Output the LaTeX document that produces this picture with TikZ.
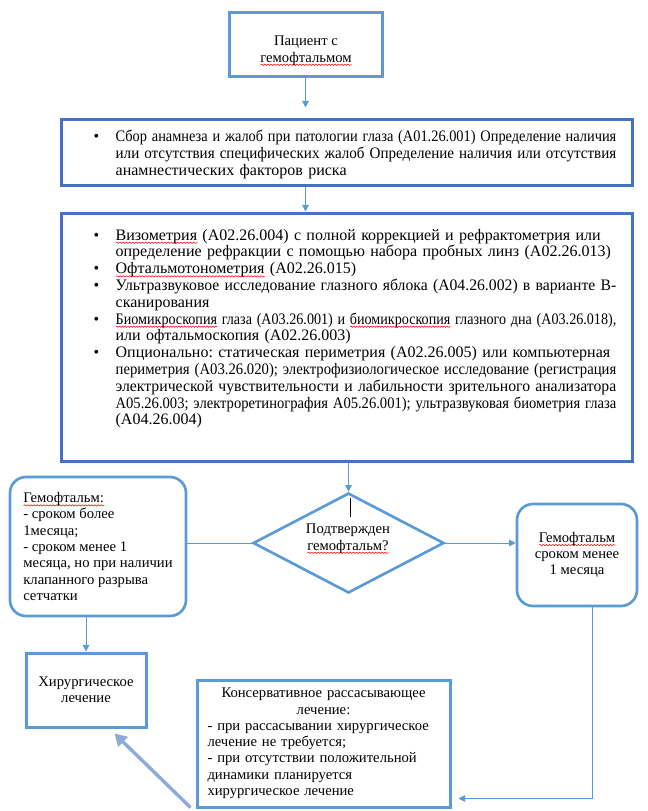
\documentclass[tikz,border=0pt]{standalone}
\usepackage{fontspec}
\usepackage{graphicx}
\setmainfont{Liberation Serif}
\usetikzlibrary{positioning,shapes.geometric,arrows.meta,decorations.pathmorphing}

\definecolor{lineblue}{HTML}{5B9BD5}
\definecolor{frameblue}{HTML}{4472C4}
\definecolor{paleblue}{HTML}{8FAADC}

\frenchspacing
% red wavy spell-check underline
\newcommand\sq[1]{\setbox0\hbox{#1}\rlap{\tikz[baseline=0pt,x=1pt,y=1pt]\draw[red,line width=0.4pt,sharp corners,decorate,decoration={snake,amplitude=0.5pt,segment length=2.4pt}] (0pt,-2pt) -- (\the\wd0,-2pt);}#1}
% list lines: bullet, continuation, justified line
\newlength\jw
\setlength\jw{375.5pt}
\newcommand\bul{\par\noindent\makebox[16.5pt][l]{\textbullet}}
\newcommand\cont{\par\noindent\hspace*{16.5pt}}
\newcommand\jline[1]{\setbox2\hbox{#1}\ifdim\wd2>\jw\resizebox{\jw}{\height}{\box2}\else\hbox to\jw{\unhbox2}\fi}

\tikzset{
  box/.style={draw=lineblue, line width=2.25pt, inner sep=0pt},
  bigbox/.style={draw=frameblue, line width=2.25pt, inner sep=0pt},
  roundbox/.style={draw=lineblue, line width=2pt, rounded corners=12pt, inner sep=0pt},
  txt/.style={font=\fontsize{11pt}{12.2pt}\selectfont, align=center},
  list/.style={font=\fontsize{12pt}{12.6pt}\selectfont, inner sep=0pt, text width=392pt},
  link/.style={draw=lineblue, line width=0.75pt, -{Triangle[width=5pt,length=5pt]}},
  plain/.style={draw=lineblue, line width=0.75pt},
  boldarrow/.style={draw=paleblue, line width=2.6pt, -{Triangle[width=10pt,length=9pt]}},
}

\begin{document}
\begin{tikzpicture}[x=0.75pt,y=-0.75pt]
  \useasboundingbox (0,0) rectangle (648,811);

  % boxes
  \node[box, minimum width=114.75pt, minimum height=48pt] (start) at (305.5,44) {};
  \node[txt, inner sep=0pt] (starttext) at (306,51) {Пациент с\\\sq{гемофтальмом}};

  \node[bigbox, minimum width=428.25pt, minimum height=49.5pt] (anam) at (346.5,152) {};
  \node[list] (anamtext) at (355,152) {%
    \bul\jline{Сбор анамнеза и жалоб при патологии глаза (А01.26.001) Определение наличия}
    \cont\jline{или отсутствия специфических жалоб Определение наличия или отсутствия}
    \cont анамнестических факторов риска\par};

  \node[bigbox, minimum width=428.25pt, minimum height=186pt] (exam) at (346.5,337) {};
  \node[list, anchor=north] (examtext) at (355,223) {%
    \bul\jline{\sq{Визометрия} (А02.26.004) с полной коррекцией и рефрактометрия или}
    \cont определение рефракции с помощью набора пробных линз (А02.26.013)
    \bul\sq{Офтальмотонометрия} (А02.26.015)
    \bul\jline{Ультразвуковое исследование глазного яблока (А04.26.002) в варианте В-}
    \cont сканирования
    \bul\jline{\sq{Биомикроскопия} глаза (А03.26.001) и \sq{биомикроскопия} глазного дна (А03.26.018),}
    \cont или офтальмоскопия (А02.26.003)
    \bul\jline{Опционально: статическая периметрия (А02.26.005) или компьютерная}
    \cont\jline{периметрия (А03.26.020); электрофизиологическое исследование (регистрация}
    \cont\jline{электрической чувствительности и лабильности зрительного анализатора}
    \cont\jline{А05.26.003; электроретинография А05.26.001); ультразвуковая биометрия глаза}
    \cont(А04.26.004)\par};

  \node[draw=lineblue, line width=2pt, diamond, inner sep=0pt,
        minimum width=143.25pt, minimum height=75pt] (ask) at (348.5,543) {};
  \node[txt, inner sep=0pt] (asktext) at (348,539) {Подтвержден\\\sq{гемофтальм?}};
  \draw[black, line width=0.75pt] ([xshift=1.5pt,yshift=-4.5pt]ask.north) -- ++(0,19);

  \node[roundbox, txt, align=left, minimum width=132pt, minimum height=104.25pt] (late) at (98,546.5)
    {\sq{Гемофтальм:}\\- сроком более\\1месяца;\\- сроком менее 1\\месяца, но при наличии\\клапанного разрыва\\сетчатки};
  \node[roundbox, txt, minimum width=90pt, minimum height=76.5pt] (early) at (577,555)
    {\sq{Гемофтальм}\\сроком менее\\1 месяца};

  \node[box, txt, minimum width=90pt, minimum height=55.5pt] (surg) at (86,690)
    {Хирургическое\\лечение};
  \node[box, txt, align=left, text width=174pt, minimum width=189.75pt, minimum height=95.25pt] (cons) at (323.5,743.5)
    {\makebox[\linewidth]{Консервативное рассасывающее}\\\makebox[\linewidth]{лечение:}\\- при рассасывании хирургическое\\лечение не требуется;\\- при отсутствии положительной\\динамики планируется\\хирургическое лечение};

  % connectors
  \draw[link, shorten >=7.5pt] (start) -- (start |- anam.north);
  \draw[link] (anam.south -| start) -- (exam.north -| start);
  \draw[link] (exam.south -| ask) -- (ask.north);
  \draw[plain] (ask.west) -- (ask.west -| late.east);
  \draw[link] (ask.east) -- (ask.east -| early.west);
  \draw[link] (surg.north |- late.south) -- (surg.north);
  \draw[link] ([xshift=11.25pt]early.south) |- ([xshift=5.25pt,yshift=7.5pt]cons.south east);
  \draw[boldarrow] ([xshift=-3.75pt,yshift=0.75pt]cons.south west) -- ([xshift=-24.75pt,yshift=-3.75pt]surg.south east);
\end{tikzpicture}
\end{document}
